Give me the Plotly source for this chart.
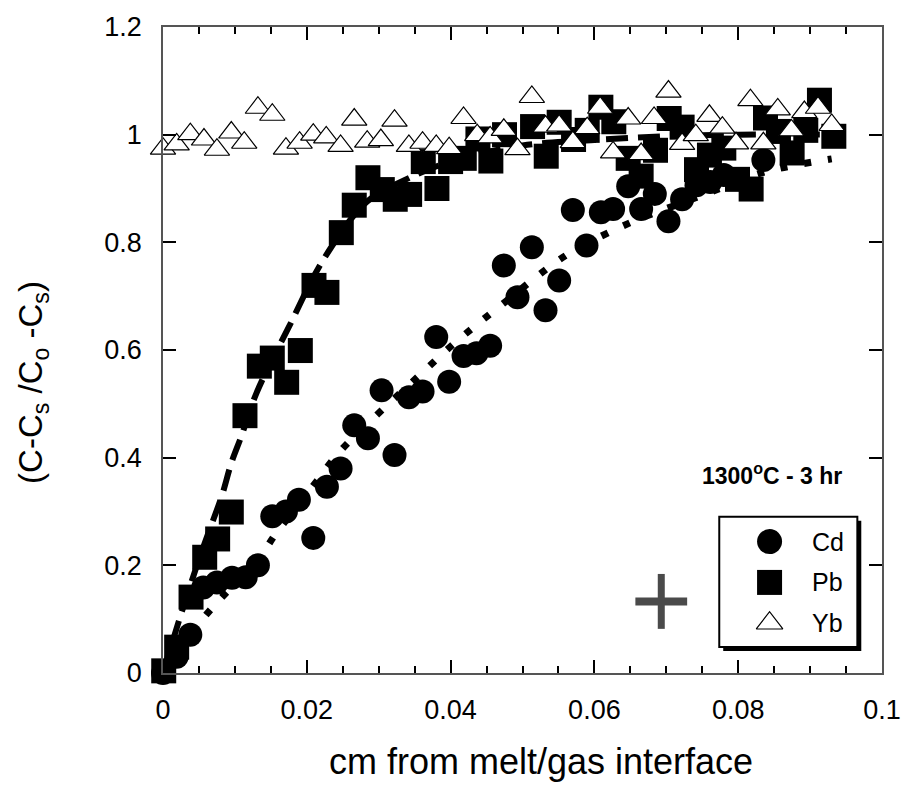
import plotly.graph_objects as go

# ---------------- data ----------------
cd_x = [0.0000, 0.0019, 0.0038, 0.0056, 0.0075, 0.0096, 0.0115, 0.0132, 0.0152, 0.0171,
        0.0189, 0.0209, 0.0228, 0.0247, 0.0266, 0.0285, 0.0304, 0.0322, 0.0342, 0.0361,
        0.0380, 0.0398, 0.0418, 0.0436, 0.0455, 0.0474, 0.0493, 0.0513, 0.0532, 0.0551,
        0.0570, 0.0589, 0.0609, 0.0626, 0.0647, 0.0665, 0.0684, 0.0703, 0.0722, 0.0742,
        0.0761, 0.0780, 0.0835]
cd_y = [0.000, 0.030, 0.071, 0.159, 0.168, 0.177, 0.178, 0.200, 0.291, 0.300,
        0.322, 0.251, 0.346, 0.380, 0.460, 0.436, 0.525, 0.405, 0.512, 0.523,
        0.624, 0.541, 0.589, 0.594, 0.608, 0.757, 0.698, 0.791, 0.674, 0.729,
        0.860, 0.794, 0.856, 0.862, 0.904, 0.862, 0.890, 0.839, 0.880, 0.906,
        0.912, 0.925, 0.953]

pb_x = [0.0001, 0.0019, 0.0039, 0.0058, 0.0076, 0.0095, 0.0114, 0.0134, 0.0152, 0.0172,
        0.0191, 0.0210, 0.0228, 0.0248, 0.0266, 0.0285, 0.0305, 0.0323, 0.0343, 0.0362,
        0.0381, 0.0400, 0.0419, 0.0438, 0.0456, 0.0475, 0.0514, 0.0533, 0.0551, 0.0571,
        0.0590, 0.0609, 0.0627, 0.0647, 0.0665, 0.0685, 0.0704, 0.0722, 0.0742, 0.0760,
        0.0780, 0.0799, 0.0818, 0.0838, 0.0856, 0.0875, 0.0894, 0.0913, 0.0933]
pb_y = [0.004, 0.048, 0.141, 0.215, 0.249, 0.299, 0.478, 0.570, 0.585, 0.540,
        0.599, 0.720, 0.707, 0.818, 0.869, 0.920, 0.898, 0.880, 0.889, 0.950,
        0.900, 0.950, 0.956, 0.992, 0.951, 1.000, 1.015, 0.960, 1.023, 0.991,
        1.008, 1.051, 1.024, 0.956, 0.923, 0.971, 1.030, 1.014, 0.935, 0.962,
        0.975, 0.917, 0.899, 1.031, 1.006, 0.966, 1.008, 1.064, 0.997]

yb_x = [0.0000, 0.0019, 0.0038, 0.0057, 0.0075, 0.0095, 0.0113, 0.0132, 0.0152, 0.0171,
        0.0190, 0.0209, 0.0227, 0.0247, 0.0266, 0.0284, 0.0303, 0.0322, 0.0342, 0.0361,
        0.0380, 0.0398, 0.0418, 0.0437, 0.0455, 0.0474, 0.0493, 0.0513, 0.0532, 0.0551,
        0.0570, 0.0590, 0.0608, 0.0626, 0.0647, 0.0665, 0.0683, 0.0703, 0.0722, 0.0741,
        0.0760, 0.0778, 0.0797, 0.0817, 0.0835, 0.0855, 0.0874, 0.0892, 0.0911, 0.0930]
yb_y = [0.974, 0.982, 1.001, 0.991, 0.972, 1.004, 0.985, 1.050, 1.037, 0.974,
        0.985, 1.000, 0.995, 0.979, 1.028, 0.987, 0.990, 1.026, 0.979, 0.985,
        0.979, 0.975, 1.031, 0.999, 0.995, 1.009, 0.973, 1.070, 1.015, 1.017,
        0.986, 1.012, 1.050, 0.967, 1.030, 0.964, 1.031, 1.080, 0.983, 0.999,
        1.035, 1.013, 0.984, 1.064, 0.984, 1.047, 1.008, 1.042, 1.050, 1.018]

# fitted curves
pb_fit_x = [0, 0.003, 0.0055, 0.0082, 0.0095, 0.0109, 0.013, 0.0174, 0.0224, 0.0284,
            0.0335, 0.040, 0.050, 0.060, 0.070, 0.080, 0.093]
pb_fit_y = [0, 0.13, 0.23, 0.33, 0.39, 0.44, 0.52, 0.64, 0.77, 0.876,
            0.915, 0.95, 0.98, 0.99, 0.997, 1.0, 1.0]
cd_fit_x = [0, 0.0055, 0.0078, 0.0137, 0.0156, 0.0209, 0.0245, 0.029, 0.036, 0.0403,
            0.0472, 0.0562, 0.0654, 0.0679, 0.0755, 0.0835, 0.093]
cd_fit_y = [0, 0.10, 0.135, 0.22, 0.257, 0.348, 0.41, 0.47, 0.557, 0.61,
            0.685, 0.777, 0.839, 0.852, 0.89, 0.93, 0.955]

# representative error cross
cross_x = [0.0693]
cross_y = [0.133]
cross_dx = [0.0036]
cross_dy = [0.051]

series_names = ["Cd", "Pb", "Yb"]
annotation_text = "<b>1300<sup>o</sup>C - 3 hr</b>"
x_title = "cm from melt/gas interface"
y_title = "(C-C<sub>s</sub> /C<sub>o</sub> -C<sub>s</sub>)"

FONT = "Arial, Liberation Sans, Helvetica, sans-serif"

fig = go.Figure()

# fit lines
fig.add_trace(go.Scatter(x=cd_fit_x, y=cd_fit_y, mode="lines", showlegend=False, hoverinfo="skip",
                         line=dict(color="black", width=7, dash="7px,17px", shape="spline")))
fig.add_trace(go.Scatter(x=pb_fit_x, y=pb_fit_y, mode="lines", showlegend=False, hoverinfo="skip",
                         line=dict(color="black", width=6, dash="22px,10px", shape="spline")))

# data
fig.add_trace(go.Scatter(x=cd_x, y=cd_y, mode="markers", name="Cd", showlegend=False, cliponaxis=False,
                         marker=dict(symbol="circle", size=24, color="black", line=dict(width=0))))
fig.add_trace(go.Scatter(x=pb_x, y=pb_y, mode="markers", name="Pb", showlegend=False, cliponaxis=False,
                         marker=dict(symbol="square", size=25, color="black", line=dict(width=0))))
fig.add_trace(go.Scatter(x=yb_x, y=yb_y, mode="markers", name="Yb", showlegend=False, cliponaxis=False,
                         marker=dict(symbol="triangle-up", size=22, color="white",
                                     line=dict(width=1.2, color="black"))))

# error cross
fig.add_trace(go.Scatter(x=cross_x, y=cross_y, mode="markers", showlegend=False, hoverinfo="skip",
                         marker=dict(size=1, color="rgba(0,0,0,0)"),
                         error_x=dict(type="data", array=cross_dx, color="#4a4a4a", thickness=8, width=0),
                         error_y=dict(type="data", array=cross_dy, color="#4a4a4a", thickness=7, width=0)))

# custom legend on a hidden axis pair (units = pixels; box spans 0..140 x 0..131)
legend_w, legend_h = 140, 131
pad = 8
legend_marker_x = 51
legend_text_x = 92
legend_rows_y = [106, 65, 24]
legend_symbols = ["circle", "square", "triangle-up"]
legend_fill = ["black", "black", "white"]
legend_sizes = [25, 25, 23]
for name, sym, fc, sz, ly in zip(series_names, legend_symbols, legend_fill, legend_sizes, legend_rows_y):
    fig.add_trace(go.Scatter(x=[legend_marker_x], y=[ly], xaxis="x3", yaxis="y3", mode="markers",
                             showlegend=False, hoverinfo="skip", cliponaxis=False,
                             marker=dict(symbol=sym, size=sz, color=fc,
                                         line=dict(width=1.2 if fc == "white" else 0, color="black"))))
    fig.add_annotation(x=legend_text_x, y=ly, xref="x3", yref="y3", text=name, showarrow=False,
                       xanchor="left", yanchor="middle", font=dict(family=FONT, size=25, color="black"))

fig.add_shape(type="rect", xref="x3", yref="y3", x0=4, x1=legend_w + 4, y0=-4, y1=legend_h - 4,
              fillcolor="black", line=dict(width=0), layer="below")
fig.add_shape(type="rect", xref="x3", yref="y3", x0=0, x1=legend_w, y0=0, y1=legend_h,
              fillcolor="white", line=dict(width=2, color="black"), layer="below")

# condition annotation
fig.add_annotation(x=0.0947, y=0.369, xref="x", yref="y", text=annotation_text, showarrow=False,
                   xanchor="right", yanchor="middle", font=dict(family=FONT, size=23, color="black"))

# axis titles as annotations (placed as in the reference)
fig.add_annotation(x=-0.18, y=0.45, xref="paper", yref="paper", text=y_title, textangle=-90,
                   showarrow=False, xanchor="center", yanchor="middle",
                   font=dict(family=FONT, size=33, color="black"))
fig.add_annotation(x=0.526, y=-0.137, xref="paper", yref="paper", text=x_title,
                   showarrow=False, xanchor="center", yanchor="middle",
                   font=dict(family=FONT, size=36, color="black"))

axis_common = dict(showline=True, linecolor="#555555", linewidth=1.5, mirror="ticks",
                   ticks="inside", tickcolor="black", tickwidth=1.5, ticklen=13,
                   showgrid=False, zeroline=False,
                   tickfont=dict(family=FONT, size=27, color="black"))

# plot area: x 163..892 px, y 24..673 px
px_w, px_h, px_l, px_b = 729.0, 649.0, 163.0, 113.0
lx0, lx1 = 727 - pad, 867 + pad     # legend box pixels (x)
ly_top, ly_bot = 516 - pad, 647 + pad  # legend box pixels (y, from top)

fig.update_layout(
    width=913, height=786,
    margin=dict(l=163, r=21, t=24, b=113),
    paper_bgcolor="white", plot_bgcolor="rgba(0,0,0,0)",
    showlegend=False,
    xaxis=dict(range=[0, 0.1], tick0=0, dtick=0.02, ticklabelstandoff=12,
               minor=dict(dtick=0.005, ticks="inside", ticklen=7, tickcolor="black", tickwidth=1.5),
               **axis_common),
    yaxis=dict(range=[0, 1.2], tick0=0, dtick=0.2, ticklabelstandoff=14, **axis_common),
    xaxis3=dict(domain=[(lx0 - px_l) / px_w, (lx1 - px_l) / px_w], range=[-pad, legend_w + pad],
                visible=False, anchor="y3", fixedrange=True),
    yaxis3=dict(domain=[(673 - ly_bot) / px_h, (673 - ly_top) / px_h], range=[-pad, legend_h + pad],
                visible=False, anchor="x3", fixedrange=True),
)

fig.write_html("out.html")
